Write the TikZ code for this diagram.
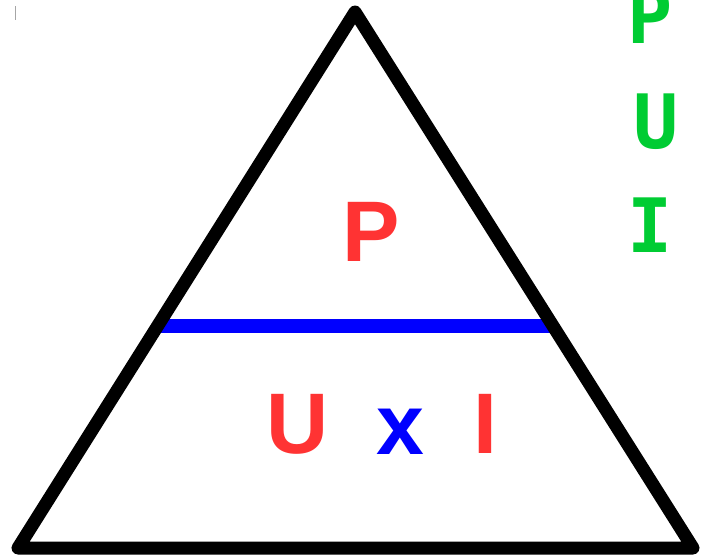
\documentclass[tikz,border=0pt]{standalone}
\usepackage{fontspec}
\setsansfont{Liberation Sans}
\newfontfamily\monobold{DejaVu Sans Mono}
\usepackage{tikz}
\usetikzlibrary{positioning}
\definecolor{lred}{RGB}{255,51,51}
\definecolor{lgreen}{RGB}{0,204,51}

\begin{document}
\begin{tikzpicture}[
  x=1pt, y=-1pt,
  qty/.style={inner sep=0pt, text=lred, font=\fontsize{86}{86}\selectfont\sffamily\bfseries},
  op/.style={inner sep=0pt, text=blue, font=\fontsize{86}{86}\selectfont\sffamily\bfseries},
  memo/.style={inner sep=0pt, text=lgreen, font=\fontsize{75}{75}\selectfont\monobold\bfseries},
  edge/.style={line width=13pt, line join=round, line cap=round},
  bar/.style={line width=14pt, blue}
]
\useasboundingbox (0,0) rectangle (701,557);

% triangle corners
\coordinate (top) at (355,12);
\coordinate (bl) at (18,548);
\coordinate (br) at (693,548);
\coordinate (barl) at (158,325.5);
\coordinate (barr) at (552,325.5);

\draw[bar] (barl) -- (barr);
\draw[edge] (top) -- (br) -- (bl) -- cycle;

\node[qty] (p) at (371,232) {P};
\node[qty] (u) at (298,424) {U};
\node[op] (times) at (400,432) {x};
\node[qty] (i) at (485,424) {I};

\node[memo] (mp) at (650,16) {P};
\node[memo] (mu) at (656,122) {U};
\node[memo] (mi) at (650,225) {I};

\coordinate (tick1) at (15.5,6);
\coordinate (tick2) at (15.5,20);
\draw[gray!70, line width=1pt] (tick1) -- (tick2);

\end{tikzpicture}
\end{document}
